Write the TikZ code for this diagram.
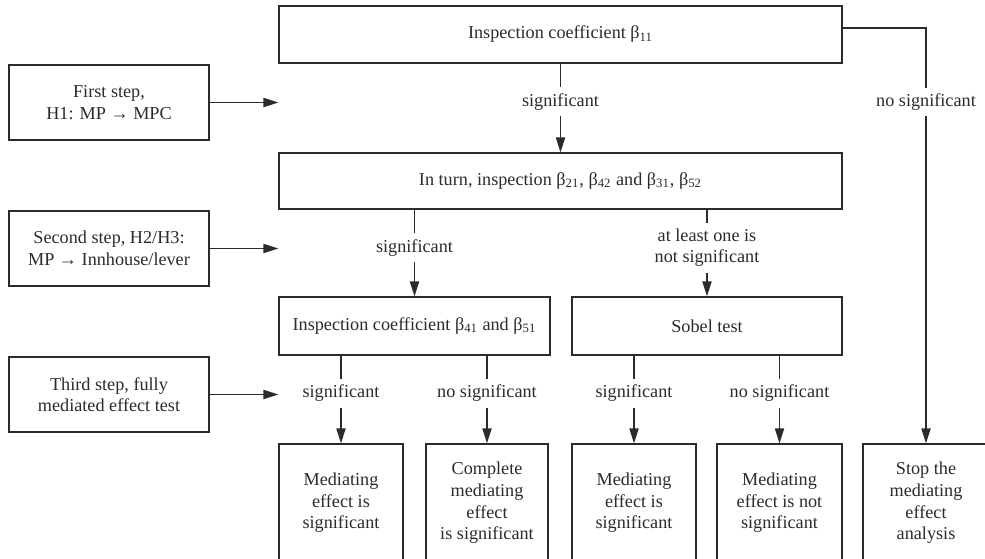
\documentclass[tikz,border=0pt]{standalone}
\usepackage{fontspec}
\setmainfont{Liberation Serif}
\usepackage{tikz}
\usetikzlibrary{arrows.meta}
\definecolor{ink}{HTML}{2B2B2B}

\begin{document}
\begin{tikzpicture}[
    x=0.5pt, y=-0.5pt,
    font=\fontsize{9.1}{10.8}\selectfont,
    text=ink,
    box/.style={%
      draw=ink,
      line width=0.65pt,
      rectangle,
      align=center,
      inner sep=2pt,
      minimum height=#1,
    },
    box/.default=28.5pt,
    lbl/.style={%
      fill=white,
      align=center,
      inner sep=3pt,
    },
    arr/.style={%
      draw=ink,
      line width=0.65pt,
      -{Triangle[length=7.5pt,width=4.6pt]},
    },
  ]
    \useasboundingbox (0,0) rectangle (985,558);

    % main chain
    \node [box, minimum width=281.5pt] (top) at (560.5,34.5) {Inspection coefficient β\textsubscript{11}};
    \node [box=28pt, minimum width=281.5pt] (turn) at (560.5,181) {In turn, inspection β\textsubscript{21}, β\textsubscript{42} and β\textsubscript{31}, β\textsubscript{52}};
    \node [box=29pt, minimum width=135.5pt] (insp) at (414.5,326) {Inspection coefficient β\textsubscript{41} and β\textsubscript{51}};
    \node [box=29pt, minimum width=135pt] (sobel) at (707,326) {Sobel test};

    % steps on the left
    \node [box=37.5pt, minimum width=100pt] (first) at (109,102.5) {First step,\\H1: MP → MPC};
    \node [box=37.5pt, minimum width=100pt] (second) at (109,248.5) {Second step, H2/H3:\\MP → Innhouse/lever};
    \node [box=37.5pt, minimum width=100pt] (third) at (109,394.5) {Third step, fully\\mediated effect test};

    % results
    \node [box=59pt, minimum width=62pt] (res1) at (341,503) {Mediating\\effect is\\significant};
    \node [box=59pt, minimum width=61pt] (res2) at (487,503) {Complete\\mediating\\effect\\is significant};
    \node [box=59pt, minimum width=62pt] (res3) at (634,503) {Mediating\\effect is\\significant};
    \node [box=59pt, minimum width=62.5pt] (res4) at (779.5,503) {Mediating\\effect is not\\significant};
    \node [box=59pt, minimum width=63pt] (stop) at (926,503) {Stop the\\mediating\\effect\\analysis};

    \draw [arr] (top) -- node [lbl, pos=0.43] {significant} (turn);
    \draw [arr] ([yshift=3.25pt]top.east) -| node [lbl, pos=0.589] {no significant} (stop);
    \draw [arr] (turn.south -| insp.north) -- node [lbl, pos=0.44] {significant} (insp);
    \draw [arr] (turn.south -| sobel.north) -- node [lbl, pos=0.44] {at least one is\\not significant} (sobel);
    \draw [arr] (insp.south -| res1.north) -- node [lbl, pos=0.43] {significant} (res1);
    \draw [arr] (insp.south -| res2.north) -- node [lbl, pos=0.43] {no significant} (res2);
    \draw [arr] (sobel.south -| res3.north) -- node [lbl, pos=0.43] {significant} (res3);
    \draw [arr] (sobel.south -| res4.north) -- node [lbl, pos=0.43] {no significant} (res4);

    \draw [arr] (first) -- (first -| top.west);
    \draw [arr] (second) -- (second -| turn.west);
    \draw [arr] (third) -- (third -| insp.west);
\end{tikzpicture}
\end{document}
